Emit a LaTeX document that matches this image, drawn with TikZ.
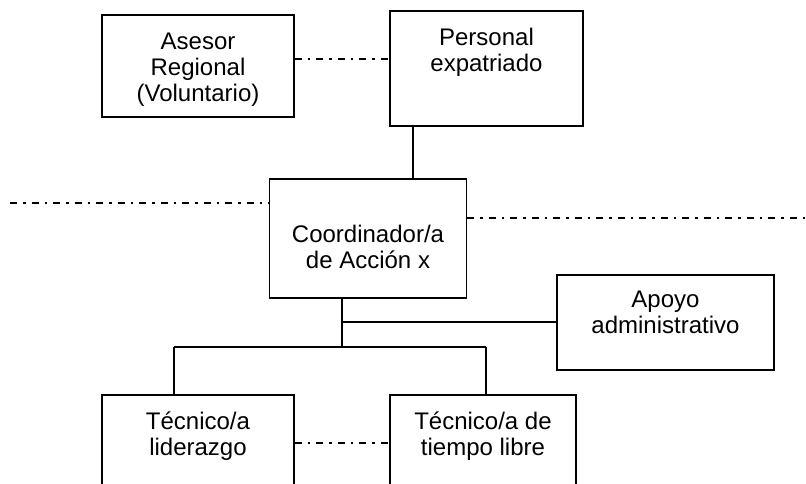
\documentclass[tikz,border=0pt]{standalone}
\usepackage{fontspec}
\setmainfont{Liberation Sans}
\begin{document}
\begin{tikzpicture}[x=1pt,y=-1pt,
  box/.style={draw=black,line width=1.6pt,fill=white,inner sep=0pt},
  txt/.style={align=center,inner sep=0pt,font=\fontsize{24}{26}\selectfont},
  conn/.style={line width=1.6pt},
  dd/.style={line width=1.6pt,dash pattern=on 7pt off 6pt on 2.5pt off 6pt}]
\useasboundingbox (0,0) rectangle (806,484);
\clip (0,0) rectangle (806,484);
\fill[white] (0,0) rectangle (806,484);
% boxes
\node[box,minimum width=192pt,minimum height=102pt] (asesor) at (198,66) {};
\node[box,minimum width=193pt,minimum height=115pt] (personal) at (486.5,68.5) {};
\node[box,minimum width=197pt,minimum height=119pt] (coord) at (368,238.5) {};
\node[box,minimum width=217pt,minimum height=95pt] (apoyo) at (665.5,322.5) {};
\node[box,minimum width=192pt,minimum height=130pt] (tec1) at (198,460) {};
\node[box,minimum width=186pt,minimum height=130pt] (tec2) at (483,460) {};
% texts
\node[txt] (tasesor) at (198,70) {Asesor\\Regional\\(Voluntario)};
\node[txt] (tpersonal) at (486.5,52.5) {Personal\\expatriado};
\node[txt] (tcoord) at (368,247) {Coordinador/a\\de Acción x};
\node[txt] (tapoyo) at (665.5,312) {Apoyo\\administrativo};
\node[txt] (ttec1) at (198,436) {Técnico/a\\liderazgo};
\node[txt] (ttec2) at (483,436) {Técnico/a de\\tiempo libre};
% coordinates
\coordinate (dl) at (10,203);
\coordinate (dr) at (806,218);
\coordinate (j) at (342,347);
\coordinate (ja) at (342,322);
\coordinate (bl) at (174,347);
\coordinate (br) at (486,347);
% connectors
\draw[dd] (asesor.east |- 0,59) -- (personal.west |- 0,59);
\draw[conn] (personal.south -| 413,0) -- (coord.north -| 413,0);
\draw[dd] (dl) -- (coord.west |- dl);
\draw[dd] (coord.east |- dr) -- (dr);
\draw[conn] (coord.south -| j) -- (j);
\draw[conn] (ja) -- (apoyo.west |- ja);
\draw[conn] (bl) -- (br);
\draw[conn] (bl) -- (tec1.north -| bl);
\draw[conn] (br) -- (tec2.north -| br);
\draw[dd] (tec1.east |- 0,443) -- (tec2.west |- 0,443);
\end{tikzpicture}
\end{document}
